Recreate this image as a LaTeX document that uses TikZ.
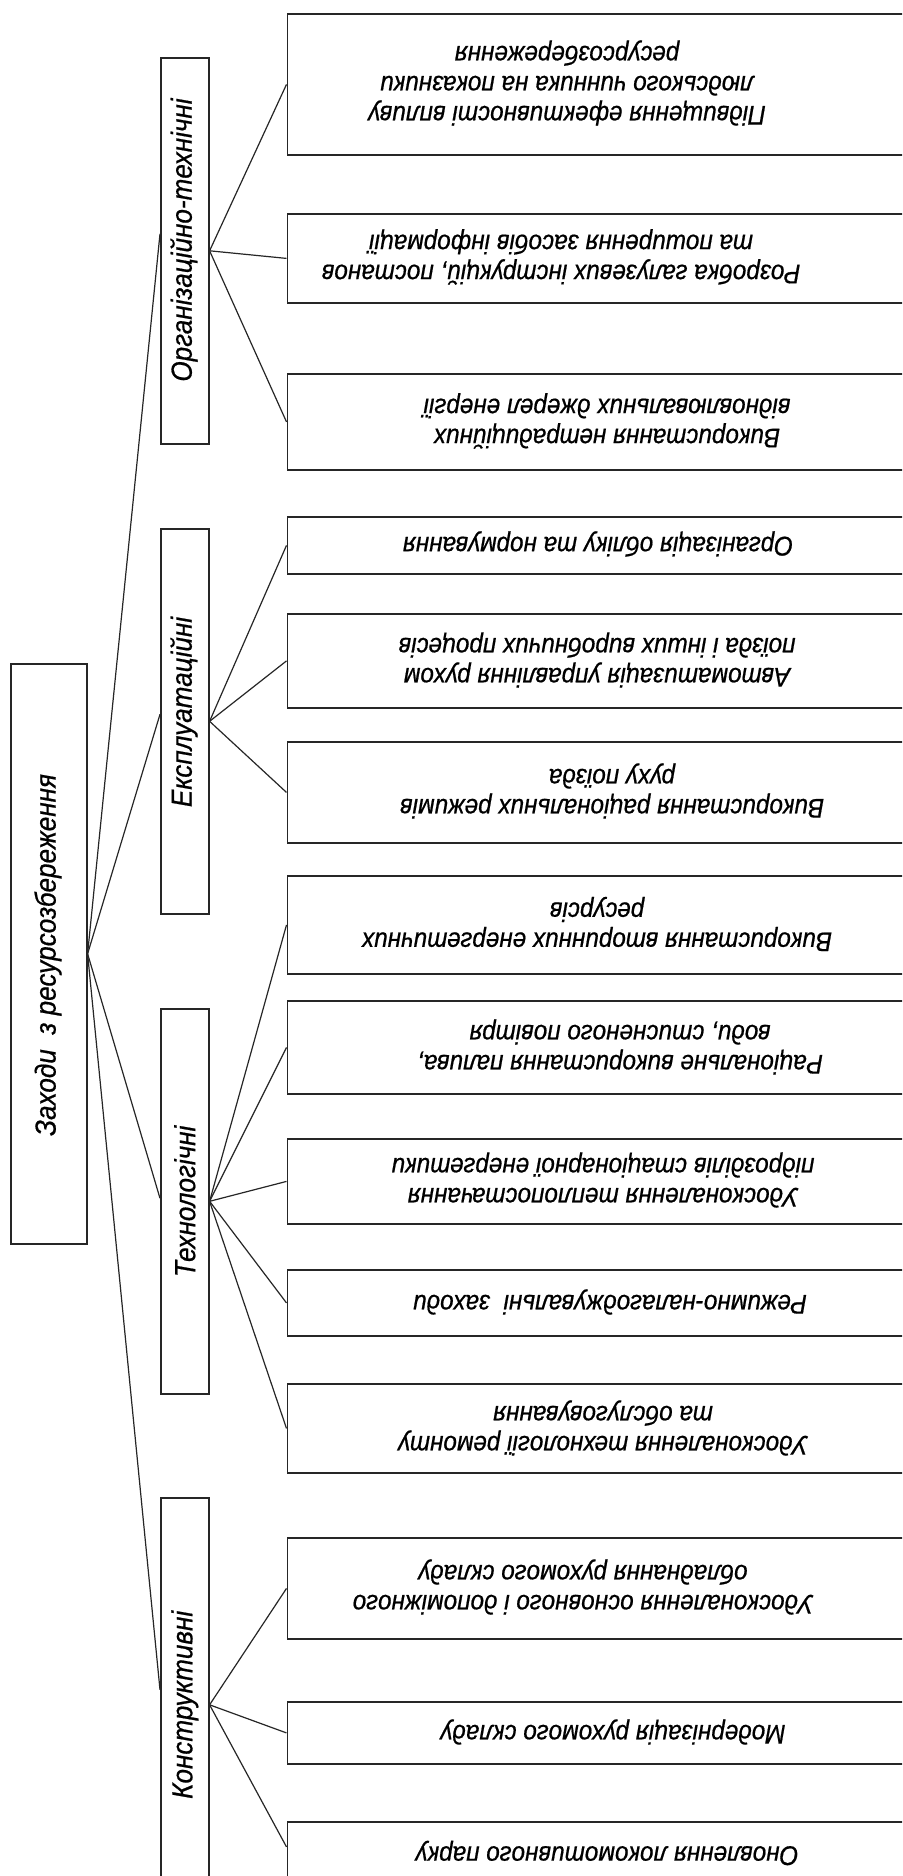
\documentclass[tikz,border=0pt]{standalone}
\usepackage{fontspec}
\newfontfamily\gost[FakeStretch=0.9,FakeBold=0.6]{Liberation Sans}
\begin{document}
\begin{tikzpicture}[x=1pt,y=-1pt,
  rbox/.style={draw=black!85,line width=1.8pt,inner sep=0pt,anchor=north west,minimum width=620pt},
  cbox/.style={draw=black!85,line width=1.6pt,inner sep=0pt,anchor=north west,minimum width=48pt},
  rtxt/.style={font=\gost\itshape\fontsize{27}{30}\selectfont,align=center,rotate=180,inner sep=0pt},
  ctxt/.style={font=\gost\itshape\fontsize{29}{30}\selectfont,rotate=90,inner sep=0pt},
  conn/.style={draw=black!85,line width=1.2pt}]
\useasboundingbox (0,0) rectangle (902,1876);
\clip (0,0) rectangle (902,1876);
\fill[white] (0,0) rectangle (902,1876);

% root
\node[cbox,minimum width=76pt,minimum height=580pt] (root) at (10,663) {};
\node[ctxt] (roott) at (48,955) {Заходи\ \ з ресурсозбереження};

% categories
\node[cbox,minimum height=386pt] (org) at (160,57) {};
\node[ctxt] (orgt) at (184,240) {Організаційно-технічні};
\node[cbox,minimum height=385pt] (exp) at (160,528) {};
\node[ctxt] (expt) at (184,712) {Експлуатаційні};
\node[cbox,minimum height=385pt] (tech) at (160,1008) {};
\node[ctxt] (techt) at (tech.center) {Технологічні};
\node[cbox,minimum height=414pt] (con) at (160,1497) {};
\node[ctxt] (cont) at (con.center) {Конструктивні};

% right boxes
\node[rbox,minimum height=141pt] (b1) at (286.5,13) {};
\node[rtxt] (t1) at (567,83) {Підвищення ефективності впливу\\людського чинника на показники\\ресурсозбереження};
\node[rbox,minimum height=89pt] (b2) at (286.5,213) {};
\node[rtxt] (t2) at (561,257) {Розробка галузевих інструкцій, постанов\\та поширення засобів інформації};
\node[rbox,minimum height=96pt] (b3) at (286.5,373) {};
\node[rtxt] (t3) at (607,421) {Використання нетрадиційних\\відновлювальних джерел енергії};
\node[rbox,minimum height=57pt] (b4) at (286.5,516) {};
\node[rtxt] (t4) at (598,544) {Організація обліку та нормування};
\node[rbox,minimum height=94pt] (b5) at (286.5,613) {};
\node[rtxt] (t5) at (597,660) {Автоматизація управління рухом\\поїзда і інших виробничих процесів};
\node[rbox,minimum height=101pt] (b6) at (286.5,741) {};
\node[rtxt] (t6) at (612,791) {Використання раціональних режимів\\руху поїзда};
\node[rbox,minimum height=98pt] (b7) at (286.5,875) {};
\node[rtxt] (t7) at (597,924) {Використання вторинних енергетичних\\ресурсів};
\node[rbox,minimum height=93pt] (b8) at (286.5,1000) {};
\node[rtxt] (t8) at (620,1047) {Раціональне використання палива,\\води, стисненого повітря};
\node[rbox,minimum height=85pt] (b9) at (286.5,1138) {};
\node[rtxt] (t9) at (603,1180) {Удосконалення теплопостачання\\підрозділів стаціонарної енергетики};
\node[rbox,minimum height=66pt] (b10) at (286.5,1269) {};
\node[rtxt] (t10) at (610,1302) {Режимно-налагоджувальні\ \ заходи};
\node[rbox,minimum height=89pt] (b11) at (286.5,1383) {};
\node[rtxt] (t11) at (603,1428) {Удосконалення технології ремонту\\та обслуговування};
\node[rbox,minimum height=101pt] (b12) at (286.5,1537) {};
\node[rtxt] (t12) at (583,1587) {Удосконалення основного і допоміжного\\обладнання рухомого складу};
\node[rbox,minimum height=62pt] (b13) at (286.5,1701) {};
\node[rtxt] (t13) at (613,1732) {Модернізація рухомого складу};
\node[rbox,minimum height=74pt] (b14) at (286.5,1821) {};
\node[rtxt] (t14) at (607,1853) {Оновлення локомотивного парку};

% connectors root -> categories
\draw[conn] (root.east) -- ([yshift=17pt]org.west);
\draw[conn] (root.east) -- ([yshift=7pt]exp.west);
\draw[conn] (root.east) -- ([yshift=3pt]tech.west);
\draw[conn] (root.east) -- ([yshift=15pt]con.west);

% categories -> measures
\foreach \b in {b1,b2,b3} \draw[conn] (org.east) -- (\b.west);
\foreach \b in {b4,b5,b6} \draw[conn] (exp.east) -- (\b.west);
\foreach \b in {b7,b8,b9,b10,b11} \draw[conn] (tech.east) -- (\b.west);
\foreach \b in {b12,b13} \draw[conn] (con.east) -- (\b.west);
\draw[conn] (con.east) -- ([yshift=12pt]b14.west);
\end{tikzpicture}
\end{document}
